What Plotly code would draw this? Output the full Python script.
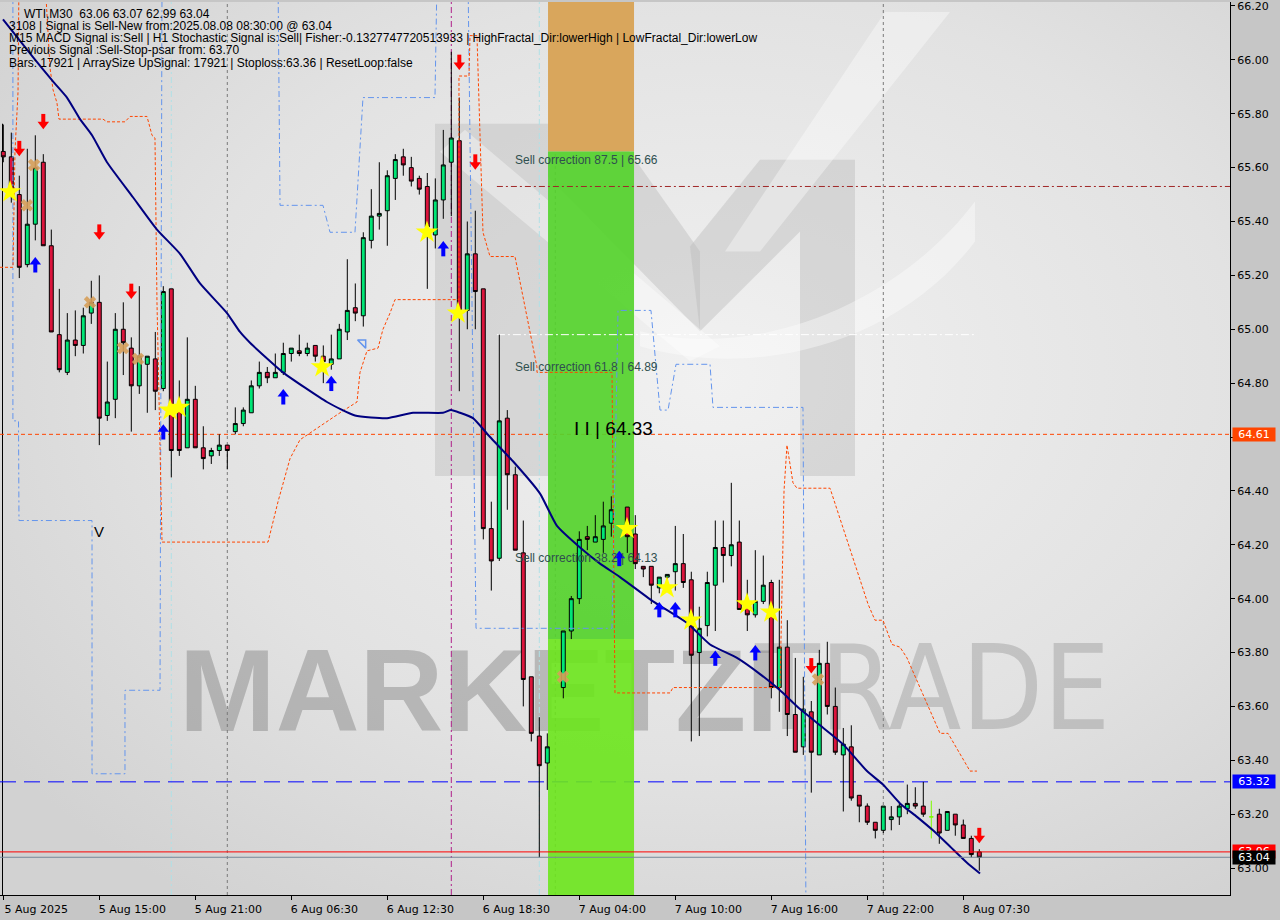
import base64
import plotly.graph_objects as go

# ------------------------------------------------------------------ data
bar_index = list(range(123))
open_ = [65.66, 65.64, 65.50, 65.24, 65.39, 65.62, 65.31, 64.98, 64.84, 64.96,
         64.94, 65.06, 65.10, 64.68, 64.74, 65.00, 64.93, 64.79, 64.87, 64.89,
         64.78, 65.15, 64.70, 64.56, 64.74, 64.56, 64.53, 64.55, 64.57, 64.62,
         64.65, 64.69, 64.79, 64.84, 64.82, 64.84, 64.91, 64.92, 64.91, 64.94,
         64.90, 64.87, 64.89, 64.99, 65.08, 65.05, 65.33, 65.42, 65.44, 65.56,
         65.64, 65.60, 65.56, 65.53, 65.35, 65.48, 65.62, 65.70, 65.07, 65.28,
         65.15, 64.26, 64.15, 64.67, 64.46, 64.17, 63.71, 63.49, 63.39, None,
         63.67, 63.88, 64.00, 64.23, 64.21, 64.22, 64.28, None, 64.34, 64.24,
         64.12, 64.12, 64.04, 64.08, 64.10, 64.13, 64.07, 63.80, 63.90, 64.05,
         64.19, 64.16, 64.21, 63.97, 63.94, 63.99, 64.06, 63.67, 63.82, 63.57,
         63.45, 63.58, 63.42, 63.76, 63.60, 63.42, 63.45, 63.27, 63.23, 63.17,
         63.14, 63.18, 63.19, 63.22, 63.24, 63.23, 63.19, 63.20, 63.14, 63.20,
         63.16, 63.11, 63.06]
high = [65.76, 65.73, 65.57, 65.67, 65.72, 65.65, 65.37, 65.15, 65.06, 65.07,
        65.08, 65.18, 65.20, 64.88, 65.06, 65.10, 64.97, 65.16, 64.90, 64.99,
        65.16, 65.15, 64.81, 64.97, 64.79, 64.64, 64.56, 64.61, 64.57, 64.71,
        64.71, 64.81, 64.88, 64.86, 64.91, 64.95, 64.93, 64.98, 64.95, 64.94,
        64.94, 64.98, 65.02, 65.26, 65.17, 65.36, 65.52, 65.62, 65.59, 65.65,
        65.67, 65.64, 65.57, 65.58, 65.56, 65.74, 66.03, 65.86, 65.40, 65.44,
        65.15, 64.36, 64.98, 64.70, 64.49, 64.29, 63.71, 63.56, 63.50, None,
        63.88, 64.01, 64.25, 64.27, 64.31, 64.36, 64.38, None, 64.34, 64.31,
        64.12, 64.12, 64.08, 64.09, 64.27, 64.24, 64.10, 63.97, 64.10, 64.29,
        64.29, 64.43, 64.29, 64.07, 64.18, 64.16, 64.07, 64.07, 63.92, 63.78,
        63.71, 63.62, 63.81, 63.84, 63.67, 63.52, 63.53, 63.27, 63.24, 63.17,
        63.23, 63.23, 63.24, 63.31, 63.30, 63.32, 63.25, 63.22, 63.21, 63.20,
        63.18, 63.12, 63.07]
low = [65.62, 65.47, 65.19, 65.23, 65.33, 65.31, 64.99, 64.84, 64.83, 64.90,
       64.91, 65.02, 64.57, 64.66, 64.67, 64.83, 64.62, 64.76, 64.69, 64.70,
       64.77, 64.45, 64.53, 64.56, 64.56, 64.48, 64.50, 64.53, 64.48, 64.61,
       64.64, 64.69, 64.78, 64.80, 64.82, 64.83, 64.88, 64.90, 64.90, 64.88,
       64.80, 64.85, 64.89, 64.96, 65.03, 65.01, 65.30, 65.37, 65.31, 65.48,
       65.57, 65.53, 65.50, 65.15, 65.30, 65.41, 65.42, 64.77, 65.00, 65.00,
       64.22, 64.03, 64.14, 64.33, 64.18, 63.60, 63.47, 63.04, 63.29, None,
       63.63, 63.85, 63.98, 64.18, 64.21, 64.17, 64.23, None, 64.17, 64.11,
       64.08, 63.98, 64.02, 64.06, 64.03, 64.04, 63.47, 63.49, 63.86, 63.88,
       64.06, 64.12, 63.96, 63.88, 63.93, 63.98, 63.63, 63.58, 63.49, 63.43,
       63.42, 63.28, 63.42, 63.57, 63.42, 63.21, 63.25, 63.17, 63.16, 63.11,
       63.13, 63.14, 63.16, 63.20, 63.22, 63.19, 63.11, 63.09, 63.14, 63.12,
       63.11, 63.04, 62.99]
close = [65.64, 65.50, 65.23, 65.39, 65.60, 65.31, 64.99, 64.85, 64.96, 64.94,
         65.05, 65.10, 64.67, 64.73, 65.00, 64.95, 64.79, 64.90, 64.90, 64.77,
         65.14, 64.55, 64.55, 64.74, 64.56, 64.52, 64.55, 64.57, 64.55, 64.65,
         64.70, 64.79, 64.84, 64.82, 64.84, 64.91, 64.93, 64.91, 64.93, 64.90,
         64.88, 64.89, 65.00, 65.07, 65.06, 65.34, 65.42, 65.43, 65.57, 65.63,
         65.61, 65.55, 65.52, 65.38, 65.48, 65.61, 65.71, 65.07, 65.28, 65.14,
         64.26, 64.14, 64.66, 64.46, 64.18, 63.70, 63.50, 63.38, 63.45, None,
         63.88, 64.00, 64.22, 64.22, 64.23, 64.27, 64.33, None, 64.23, 64.13,
         64.11, 64.05, 64.08, 64.09, 64.13, 64.06, 63.79, 63.89, 64.06, 64.19,
         64.16, 64.20, 63.96, 63.94, 63.99, 64.05, 63.67, 63.82, 63.57, 63.43,
         63.59, 63.43, 63.76, 63.60, 63.43, 63.46, 63.26, 63.23, 63.17, 63.14,
         63.23, 63.19, 63.23, 63.24, 63.23, 63.20, 63.19, 63.13, 63.21, 63.16,
         63.11, 63.05, 63.04]

tick_index = [0, 12, 24, 36, 48, 60, 72, 84, 96, 108, 120]
tick_labels = ["5 Aug 2025", "5 Aug 15:00", "5 Aug 21:00", "6 Aug 06:30",
               "6 Aug 12:30", "6 Aug 18:30", "7 Aug 04:00", "7 Aug 10:00",
               "7 Aug 16:00", "7 Aug 22:00", "8 Aug 07:30"]
price_ticks = [63.0, 63.2, 63.4, 63.6, 63.8, 64.0, 64.2, 64.4, 64.6, 64.8,
               65.0, 65.2, 65.4, 65.6, 65.8, 66.0, 66.2]

# moving average (read at points along the line)
ma_index = [-0.04, 3.71, 6.21, 7.96, 9.59, 11.09, 12.96, 16.21, 19.21, 22.09,
            24.59, 27.96, 29.59, 30.84, 34.96, 40.46, 43.96, 47.96, 51.21, 54.96,
            55.96, 57.09, 58.71, 60.84, 63.71, 67.09, 69.21, 72.09, 74.59, 77.09,
            81.21, 85.46, 88.34, 91.71, 94.59, 97.09, 99.59, 102.09, 104.96, 107.96,
            109.96, 112.09, 114.21, 116.21, 118.34, 120.46, 122.09]
ma_value = [66.15, 66.01, 65.92, 65.86, 65.78, 65.72, 65.62, 65.49, 65.37, 65.28,
            65.17, 65.06, 64.99, 64.95, 64.84, 64.73, 64.68, 64.67, 64.69, 64.69,
            64.70, 64.69, 64.67, 64.60, 64.51, 64.39, 64.27, 64.19, 64.13, 64.08,
            63.99, 63.91, 63.83, 63.78, 63.72, 63.66, 63.59, 63.53, 63.46, 63.36,
            63.31, 63.24, 63.19, 63.14, 63.08, 63.02, 62.98]

# blue step channels
blue_a_index = [1.2, 1.2, 1.9, 1.96, 11.09, 11.09, 15.21, 15.21, 19.59, 19.84]
blue_a_value = [66.3, 64.66, 64.66, 64.29, 64.29, 63.35, 63.35, 63.66, 63.66, 66.3]
blue_b_index = [34.34, 34.59, 39.96, 40.84, 43.96, 44.96, 53.96, 54.21]
blue_b_value = [66.3, 65.46, 65.46, 65.36, 65.36, 65.86, 65.86, 66.3]
blue_c_index = [58.09, 59.09, 76.09, 76.84, 80.96, 82.09, 83.09, 84.09, 88.34, 88.71, 99.96, 100.34]
blue_c_value = [66.3, 63.89, 63.89, 65.07, 65.07, 64.70, 64.70, 64.87, 64.87, 64.71, 64.71, 62.8]

# orange stop line
orange_a_index = [-0.41, 1.21, 1.46, 1.84, 1.96]
orange_a_value = [65.23, 65.23, 65.66, 65.88, 66.3]
orange_b_index = [5.21, 5.84, 6.21, 6.71, 6.96, 12.46, 12.96, 15.21, 15.84, 17.96,
                  18.59, 18.96, 19.21, 19.59, 19.84, 33.09, 34.34, 35.84, 37.09, 42.09,
                  44.21, 44.59, 45.46, 46.84, 47.46, 48.34, 48.96, 56.96, 56.96, 58.21,
                  58.34, 59.21, 59.59, 59.96, 60.84, 63.96, 66.71, 66.71, 76.09, 76.46,
                  83.34, 83.71, 97.09, 97.34, 97.59, 97.96, 98.71, 99.21, 103.34, 108.09,
                  108.96, 109.96, 111.09, 112.09, 112.96, 117.09, 118.09, 120.84, 121.71]
orange_b_value = [66.3, 65.97, 65.89, 65.84, 65.78, 65.78, 65.77, 65.77, 65.79, 65.79,
                  65.72, 65.71, 65.10, 64.61, 64.21, 64.21, 64.36, 64.52, 64.59, 64.69,
                  64.73, 64.84, 64.92, 64.93, 65.00, 65.06, 65.11, 65.11, 65.94, 65.94,
                  66.09, 66.09, 65.69, 65.36, 65.27, 65.27, 64.86, 64.84, 64.84, 63.65,
                  63.65, 63.67, 63.67, 64.02, 64.40, 64.57, 64.43, 64.41, 64.41, 63.98,
                  63.92, 63.92, 63.83, 63.82, 63.78, 63.50, 63.50, 63.36, 63.36]

# signal markers
red_arrow_index = [2, 5, 12, 16, 57, 59, 101, 122]
red_arrow_price = [65.67, 65.77, 65.36, 65.14, 65.99, 65.62, 63.75, 63.12]
blue_arrow_index = [4, 20, 35, 41, 55, 77, 82, 84, 89, 94]
blue_arrow_price = [65.24, 64.62, 64.75, 64.80, 65.30, 64.15, 63.96, 63.96, 63.78, 63.80]
star_index = [0.84, 20.84, 21.96, 39.84, 52.96, 56.84, 77.96, 82.96, 85.96, 92.96, 95.96]
star_price = [65.51, 64.70, 64.71, 64.86, 65.36, 65.06, 64.26, 64.04, 63.92, 63.98, 63.95]
cross_index = [2.96, 3.84, 10.84, 14.96, 16.84, 69.96, 101.84]
cross_price = [65.46, 65.61, 65.10, 64.93, 64.89, 63.71, 63.70]
open_arrow_index = [44.96]
open_arrow_price = [64.95]

# levels
level_stop_orange = 64.61
level_blue = 63.32
level_bid = 63.06
level_last = 63.04
level_red_dd = 65.53
level_white_dd = 64.98
levels_from_index = 61.7
white_dd_to_index = 121.5

sell_corr_texts = ["Sell correction 87.5 | 65.66", "Sell correction 61.8 | 64.89",
                   "Sell correction 38.2 | 64.13"]
sell_corr_prices = [65.63, 64.86, 64.15]
sell_corr_index = 63.7

zone_start, zone_end = 68.09, 78.84
zone_top, zone_split = 65.66, 63.85

separator_index = [28, 69, 110]
magenta_index = [56]
cyan_index = [21, 67]

info_lines = [
    "WTI,M30\u00a0\u00a063.06 63.07 62.99 63.04",
    "3108 | Signal is Sell-New from:2025.08.08 08:30:00 @ 63.04",
    "M15 MACD Signal is:Sell | H1 Stochastic Signal is:Sell| Fisher:-0.1327747720513933 | HighFractal_Dir:lowerHigh | LowFractal_Dir:lowerLow",
    "Previous Signal :Sell-Stop-psar from: 63.70",
    "Bars: 17921 | ArraySize UpSignal: 17921 | Stoploss:63.36 | ResetLoop:false",
]

# ------------------------------------------------------------------ layout constants
W, H = 1280, 920
ML, MR, MT, MB = 0, 50, 0, 25
PW, PH = W - ML - MR, H - MT - MB
x_range = [-0.4125, 153.3375]
y_range = [62.9, 66.2148]
ppu = PH / (y_range[1] - y_range[0])  # pixels per price unit

fig = go.Figure()

# candles
valid = [i for i in bar_index if open_[i] is not None]
doji = [i for i in valid if open_[i] == close[i]]
normal = [i for i in valid if i not in doji]


def pick(arr, idx):
    return [arr[i] for i in idx]


fig.add_trace(go.Candlestick(
    x=normal, open=pick(open_, normal), high=pick(high, normal),
    low=pick(low, normal), close=pick(close, normal),
    increasing=dict(line=dict(color="black", width=1), fillcolor="#00E676"),
    decreasing=dict(line=dict(color="black", width=1), fillcolor="#DC143C"),
    whiskerwidth=0, hoverinfo="skip", name="WTI"))
fig.add_trace(go.Candlestick(
    x=doji, open=pick(open_, doji), high=pick(high, doji),
    low=pick(low, doji), close=pick(close, doji),
    increasing=dict(line=dict(color="#7CFC00", width=1), fillcolor="#7CFC00"),
    decreasing=dict(line=dict(color="#7CFC00", width=1), fillcolor="#7CFC00"),
    whiskerwidth=0, hoverinfo="skip", name="doji"))

# channels
for xi, yi in [(blue_a_index, blue_a_value), (blue_b_index, blue_b_value), (blue_c_index, blue_c_value)]:
    fig.add_trace(go.Scatter(x=xi, y=yi, mode="lines",
                             line=dict(color="#6495ED", width=1, dash="6px,3px,2px,3px"),
                             hoverinfo="skip"))
for xi, yi in [(orange_a_index, orange_a_value), (orange_b_index, orange_b_value)]:
    fig.add_trace(go.Scatter(x=xi, y=yi, mode="lines",
                             line=dict(color="#FF4500", width=1, dash="3px,2px"),
                             hoverinfo="skip"))

# moving average
fig.add_trace(go.Scatter(x=ma_index, y=ma_value, mode="lines",
                         line=dict(color="#000080", width=2, shape="spline", smoothing=0.5),
                         hoverinfo="skip"))

# red down arrows: stem + head
fig.add_trace(go.Scatter(x=red_arrow_index, y=[p + 3.0 / ppu for p in red_arrow_price], mode="markers",
                         marker=dict(symbol="line-ns", size=7, color="#FF0000",
                                     line=dict(width=4, color="#FF0000")), hoverinfo="skip"))
fig.add_trace(go.Scatter(x=red_arrow_index, y=[p - 2.5 / ppu for p in red_arrow_price], mode="markers",
                         marker=dict(symbol="triangle-down", size=10, color="#FF0000",
                                     line=dict(width=0)), hoverinfo="skip"))
# blue up arrows
fig.add_trace(go.Scatter(x=blue_arrow_index, y=[p - 3.0 / ppu for p in blue_arrow_price], mode="markers",
                         marker=dict(symbol="line-ns", size=7, color="#0000FF",
                                     line=dict(width=4, color="#0000FF")), hoverinfo="skip"))
fig.add_trace(go.Scatter(x=blue_arrow_index, y=[p + 2.5 / ppu for p in blue_arrow_price], mode="markers",
                         marker=dict(symbol="triangle-up", size=10, color="#0000FF",
                                     line=dict(width=0)), hoverinfo="skip"))
# open arrow
fig.add_trace(go.Scatter(x=open_arrow_index, y=open_arrow_price, mode="markers",
                         marker=dict(symbol="triangle-ne-open", size=9, color="#6495ED",
                                     line=dict(width=1.5, color="#6495ED")), hoverinfo="skip"))
# crosses
fig.add_trace(go.Scatter(x=cross_index, y=cross_price, mode="markers",
                         marker=dict(symbol="x", size=11, color="rgba(214,158,90,0.9)",
                                     line=dict(width=0)), hoverinfo="skip"))
# stars
fig.add_trace(go.Scatter(x=star_index, y=star_price, mode="markers",
                         marker=dict(symbol="star", size=17, color="#FFFF00",
                                     line=dict(width=0)), hoverinfo="skip"))

# ------------------------------------------------------------------ shapes
shapes = []
# watermark text first (below everything else)
shapes.append(dict(type="rect", xref="paper", yref="paper", x0=176 / PW, x1=770 / PW,
                   y0=1 - 740 / PH, y1=1 - 620 / PH, fillcolor="rgba(0,0,0,0)", line=dict(width=0),
                   layer="below",
                   label=dict(text="MARKETZI", textposition="middle left", padding=0,
                              font=dict(family="Liberation Sans", size=116, weight="bold",
                                        color="rgba(105,105,105,0.36)"))))
shapes.append(dict(type="rect", xref="paper", yref="paper", x0=752 / PW, x1=1110 / PW,
                   y0=1 - 740 / PH, y1=1 - 620 / PH, fillcolor="rgba(0,0,0,0)", line=dict(width=0),
                   layer="below",
                   label=dict(text="TRADE", textposition="middle left", padding=0,
                              font=dict(family="Liberation Sans Narrow, DejaVu Sans Condensed, Liberation Sans",
                                        size=118, color="rgba(120,120,120,0.30)"))))
# signal zone (slightly translucent so the watermark shows through)
shapes.append(dict(type="rect", xref="x", yref="y", x0=zone_start, x1=zone_end, y0=zone_top, y1=66.4,
                   fillcolor="#D9A65C", line=dict(width=0), layer="below"))
shapes.append(dict(type="rect", xref="x", yref="y", x0=zone_start, x1=zone_end, y0=zone_split, y1=zone_top,
                   fillcolor="#55D22D", opacity=0.92, line=dict(width=0), layer="below"))
shapes.append(dict(type="rect", xref="x", yref="y", x0=zone_start, x1=zone_end, y0=62.8, y1=zone_split,
                   fillcolor="#6BE51C", opacity=0.9, line=dict(width=0), layer="below"))
# vertical lines
for i in separator_index:
    shapes.append(dict(type="line", xref="x", yref="paper", x0=i, x1=i, y0=0, y1=1,
                       line=dict(color="#7A7A7A", width=1, dash="3px,3px"), layer="below"))
for i in magenta_index:
    shapes.append(dict(type="line", xref="x", yref="paper", x0=i, x1=i, y0=0, y1=1,
                       line=dict(color="#B0208A", width=1, dash="6px,3px,2px,3px"), layer="below"))
for i in cyan_index:
    shapes.append(dict(type="line", xref="x", yref="paper", x0=i, x1=i, y0=0, y1=1,
                       line=dict(color="#B0E0E6", width=1, dash="6px,3px,2px,3px"), layer="below"))
# left edge line
shapes.append(dict(type="line", xref="paper", yref="paper", x0=2.5 / PW, x1=2.5 / PW,
                   y0=0, y1=1 - 122 / PH, line=dict(color="black", width=1), layer="below"))
# horizontal levels
shapes.append(dict(type="line", xref="x", yref="y", x0=levels_from_index, x1=x_range[1],
                   y0=level_red_dd, y1=level_red_dd,
                   line=dict(color="#A02828", width=1, dash="6px,3px,2px,3px"), layer="below"))
shapes.append(dict(type="line", xref="x", yref="y", x0=levels_from_index, x1=white_dd_to_index,
                   y0=level_white_dd, y1=level_white_dd,
                   line=dict(color="white", width=1, dash="8px,3px,2px,3px"), layer="below"))
shapes.append(dict(type="line", xref="paper", yref="y", x0=0, x1=1, y0=level_stop_orange, y1=level_stop_orange,
                   line=dict(color="#FF4500", width=1, dash="4px,3px"), layer="below"))
shapes.append(dict(type="line", xref="paper", yref="y", x0=0, x1=1, y0=level_blue, y1=level_blue,
                   line=dict(color="#0000FF", width=1, dash="16px,8px"), layer="below"))
shapes.append(dict(type="line", xref="paper", yref="y", x0=0, x1=1, y0=level_bid, y1=level_bid,
                   line=dict(color="#FF0000", width=1), layer="above"))
shapes.append(dict(type="line", xref="paper", yref="y", x0=0, x1=1, y0=level_last, y1=level_last,
                   line=dict(color="#778899", width=1), layer="above"))

# ------------------------------------------------------------------ annotations
ann = []
info_x = [22, 7, 7, 7, 7]
for k, line in enumerate(info_lines):
    ann.append(dict(xref="paper", yref="paper", x=info_x[k] / PW, y=1 - (12 + 12.2 * k) / PH,
                    xanchor="left", yanchor="middle", showarrow=False, text=line,
                    font=dict(family="Liberation Sans", size=12, color="black")))
for t, p in zip(sell_corr_texts, sell_corr_prices):
    ann.append(dict(xref="x", yref="y", x=sell_corr_index, y=p, xanchor="left", yanchor="middle",
                    showarrow=False, text=t,
                    font=dict(family="Liberation Sans", size=12, color="#2F4F4F")))
ann.append(dict(xref="x", yref="y", x=71.1, y=64.63, xanchor="left", yanchor="middle", showarrow=False,
                text="I I | 64.33", font=dict(family="Liberation Sans", size=19, color="black")))
ann.append(dict(xref="x", yref="y", x=12, y=64.25, xanchor="center", yanchor="middle", showarrow=False,
                text="V", font=dict(family="Liberation Sans", size=15, color="black")))
for p, bg in [(level_stop_orange, "#FF4500"), (level_blue, "#0000FF"), (level_bid, "#FF0000"),
              (level_last, "#000000")]:
    ann.append(dict(xref="paper", yref="y", x=1, y=p, xanchor="left", yanchor="middle", xshift=2,
                    showarrow=False, text=f"{p:.2f}", bgcolor=bg, width=42, height=13, borderpad=0,
                    font=dict(family="DejaVu Sans", size=11, color="white")))

# ------------------------------------------------------------------ background image (gradient + logo)
svg = (
    '<svg xmlns="http://www.w3.org/2000/svg" width="1230" height="895" viewBox="0 0 1230 895" '
    'preserveAspectRatio="none">'
    '<defs><radialGradient id="g" cx="0.58" cy="0.42" r="0.72">'
    '<stop offset="0" stop-color="#f1f1f1"/><stop offset="0.6" stop-color="#e2e2e2"/>'
    '<stop offset="1" stop-color="#d2d2d2"/></radialGradient></defs>'
    '<rect x="0" y="0" width="1230" height="895" fill="url(#g)"/>'
    '<g fill="#bdbdbd" fill-opacity="0.45">'
    '<polygon points="435,122 548,122 548,475 435,475"/>'
    '<polygon points="800,158 855,158 855,475 800,475"/>'
    '<polygon points="548,122 610,122 700,250 700,330 548,175"/>'
    '<polygon points="800,158 760,158 690,245 700,330 800,230"/>'
    '</g>'
    '<g fill="#ffffff" fill-opacity="0.38">'
    '<polygon points="440,150 465,128 720,345 690,360"/>'
    '<path d="M640,330 C760,360 900,300 975,200 L975,240 C900,340 760,380 640,345 Z"/>'
    '<polygon points="885,10 950,10 760,250 725,250"/>'
    '</g></svg>'
)
bg_src = "data:image/svg+xml;base64," + base64.b64encode(svg.encode()).decode()

fig.update_layout(
    width=W, height=H, margin=dict(l=ML, r=MR, t=MT, b=MB, pad=0),
    paper_bgcolor="#C6C6C6", plot_bgcolor="#DCDCDC", showlegend=False,
    shapes=shapes, annotations=ann,
    images=[dict(source=bg_src, xref="paper", yref="paper", x=0, y=1, sizex=1, sizey=1,
                 sizing="stretch", xanchor="left", yanchor="top", layer="below")],
    xaxis=dict(range=x_range, showgrid=False, zeroline=False, showline=True, linecolor="black",
               linewidth=1, ticks="outside", ticklen=4, tickcolor="black",
               tickvals=tick_index, ticktext=tick_labels, ticklabelshift=33,
               tickfont=dict(family="DejaVu Sans", size=11, color="black"),
               rangeslider=dict(visible=False), fixedrange=True),
    yaxis=dict(range=y_range, side="right", showgrid=False, zeroline=False, showline=True,
               linecolor="black", linewidth=1, ticks="outside", ticklen=4, tickcolor="black",
               tickvals=price_ticks, ticktext=[f"{v:.2f}" for v in price_ticks],
               ticklabeloverflow="allow",
               tickfont=dict(family="DejaVu Sans", size=11, color="black"), fixedrange=True),
)

fig.write_html("out.html", config={"displayModeBar": False},
               post_script="document.body.style.margin='0px';document.body.style.overflow='hidden';")
